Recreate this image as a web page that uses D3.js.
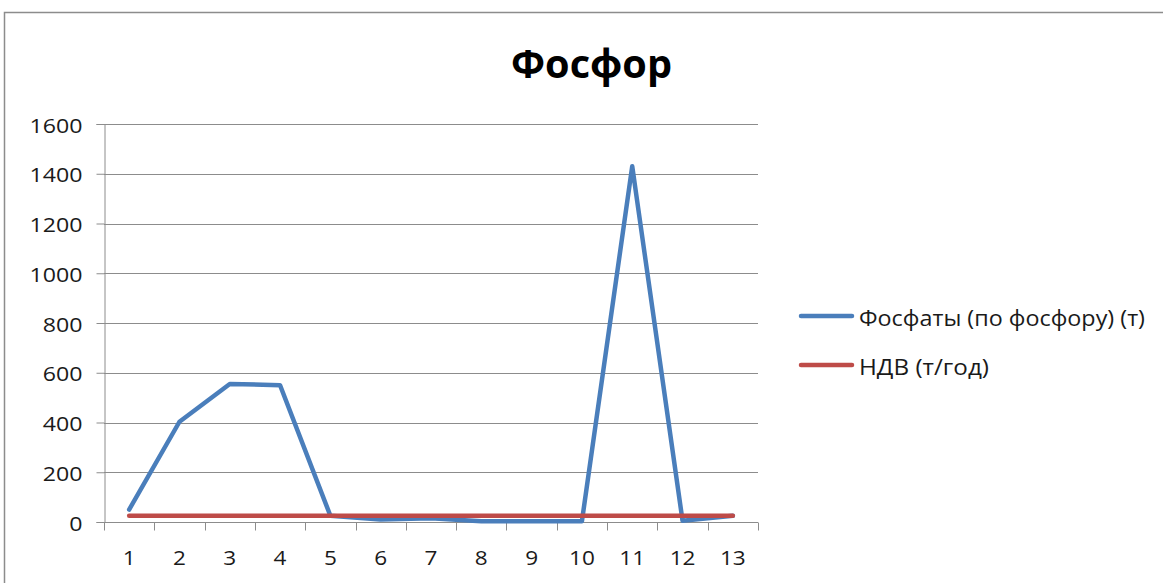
<!DOCTYPE html>
<html><head><meta charset="utf-8">
<script src="https://cdn.jsdelivr.net/npm/d3@7"></script>
<style>body{margin:0;background:#fff}svg{display:block;font-family:"Open Sans",sans-serif}</style>
</head><body>
<svg id="c" width="1163" height="583"></svg>
<script>
const categories = ["1","2","3","4","5","6","7","8","9","10","11","12","13"];
const phosphates = [50, 403, 555, 550, 25, 10, 15, 3, 3, 3, 1430, 5, 25];
const ndv = [25, 25, 25, 25, 25, 25, 25, 25, 25, 25, 25, 25, 25];
const yTicks = [0, 200, 400, 600, 800, 1000, 1200, 1400, 1600];
const seriesNames = ["Фосфаты (по фосфору) (т)", "НДВ (т/год)"];
const colors = ["#4a7ebb", "#be4b48"];
const title = "Фосфор";

const SX = 1.13; // horizontal stretch of digit labels
const svg = d3.select("#c");
svg.append("rect").attr("x", 4.5).attr("y", 12.5).attr("width", 1200).attr("height", 600)
  .attr("fill", "none").attr("stroke", "#8c8c8c").attr("stroke-width", 1.5);

const L = 104, R = 758, T = 124, B = 522;
const x = d3.scaleBand().domain(categories).range([L, R]);
const y = d3.scaleLinear().domain([0, 1600]).range([B, T]);

svg.append("g").selectAll("line").data(yTicks).join("line")
  .attr("x1", L).attr("x2", R).attr("y1", d => Math.round(y(d)) + 0.5).attr("y2", d => Math.round(y(d)) + 0.5)
  .attr("stroke", "#8c8c8c").attr("stroke-width", 1);

const ya = svg.append("g").attr("transform", `translate(${L + 0.5},0)`)
  .call(d3.axisLeft(y).tickValues(yTicks).tickSize(8).tickPadding(9).tickFormat(d3.format("d")));
ya.select(".domain").attr("stroke", "#8c8c8c");
ya.selectAll(".tick line").attr("stroke", "#8c8c8c");
ya.selectAll("text").attr("font-size", 20.5).attr("fill", "#1a1a1a").attr("font-family", "'Open Sans',sans-serif")
  .attr("x", -22 / SX).attr("dy", null).attr("y", 8).attr("transform", `scale(${SX},1)`);

const xa = svg.append("g").attr("transform", `translate(0,${B + 0.5})`)
  .call(d3.axisBottom(x).tickSize(0));
xa.select(".domain").attr("stroke", "#8c8c8c").attr("d", `M${L},0H${R}`);
xa.selectAll(".tick text").attr("font-size", 20).attr("fill", "#1a1a1a").attr("font-family", "'Open Sans',sans-serif")
  .attr("dy", null).attr("y", 42.5).attr("transform", `scale(${SX},1)`);
const bounds = categories.map(c => x(c)).concat([R]);
xa.append("g").selectAll("line").data(bounds).join("line")
  .attr("x1", d => Math.round(d) + 0.5).attr("x2", d => Math.round(d) + 0.5)
  .attr("y1", 0).attr("y2", 8).attr("stroke", "#8c8c8c");

const line = d3.line().x((d, i) => x(categories[i]) + x.bandwidth() / 2).y(d => y(d));
[phosphates, ndv].forEach((s, k) => {
  svg.append("path").datum(s).attr("d", line).attr("fill", "none")
    .attr("stroke", colors[k]).attr("stroke-width", 4.5)
    .attr("stroke-linejoin", "round").attr("stroke-linecap", "round");
});

svg.append("text").attr("x", 511).attr("y", 78)
  .attr("font-size", 40).attr("font-weight", "bold").attr("fill", "#000")
  .attr("textLength", 161).attr("lengthAdjust", "spacingAndGlyphs").text(title);

const legendWidths = [286, 130];
const lg = svg.append("g");
seriesNames.forEach((n, k) => {
  const ly = 316 + k * 49;
  lg.append("line").attr("x1", 801).attr("x2", 852).attr("y1", ly).attr("y2", ly)
    .attr("stroke", colors[k]).attr("stroke-width", 4.5).attr("stroke-linecap", "round");
  lg.append("text").attr("x", 859).attr("y", ly + 10).attr("font-size", 22.5).attr("fill", "#1a1a1a")
    .attr("textLength", legendWidths[k]).attr("lengthAdjust", "spacingAndGlyphs").text(n);
});
</script>
</body></html>
